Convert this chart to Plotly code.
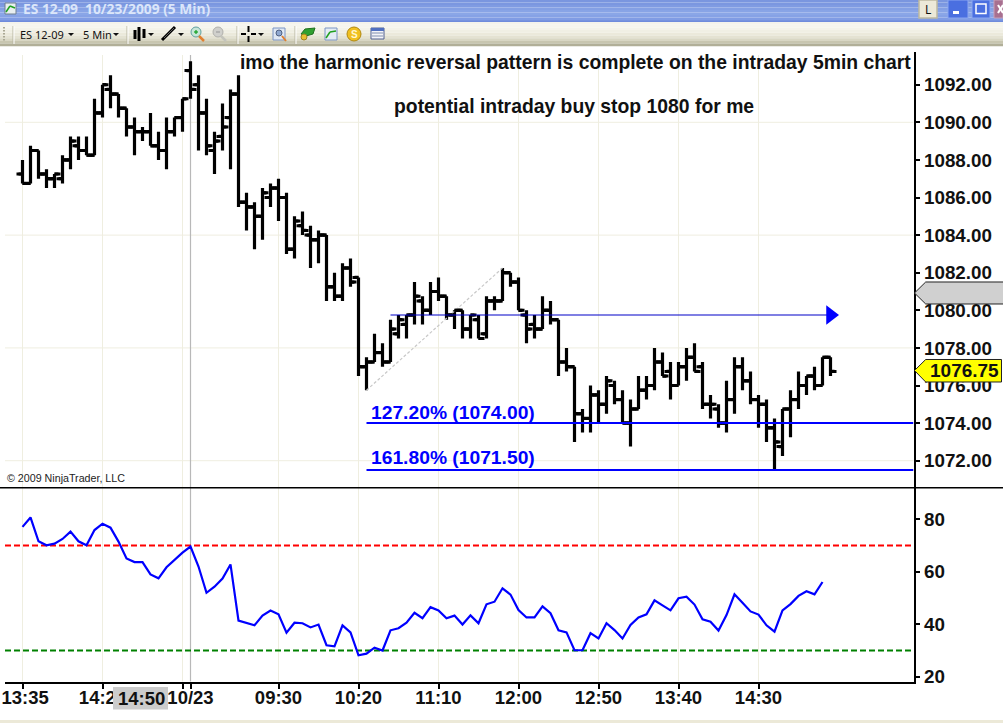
import plotly.graph_objects as go
from plotly.subplots import make_subplots

W, H = 1003, 723

# 5 min bars, 10/22 13:35 through 10/23 15:15
open_px = [1087.25, 1086.75, 1088.5, 1087.25, 1087.0, 1087.0, 1088.0, 1088.75, 1088.5, 1088.25,
           1090.5, 1091.75, 1091.5, 1090.75, 1089.75, 1089.5, 1089.5, 1088.75, 1088.5, 1089.5,
           1090.25, 1092.75, 1092.0, 1090.5, 1088.5, 1089.25, 1090.25, 1091.5, 1085.75, 1085.5,
           1085.0, 1086.0, 1086.5, 1086.0, 1083.25, 1084.5, 1084.0, 1083.75, 1084.0, 1081.25,
           1080.75, 1082.25, 1081.75, 1077.0, 1077.25, 1077.75, 1077.25, 1078.75, 1079.25, 1079.75,
           1080.5, 1080.0, 1081.0, 1080.75, 1079.75, 1080.0, 1079.0, 1079.5, 1078.75, 1080.5,
           1080.5, 1082.0, 1081.5, 1079.75, 1079.25, 1079.0, 1080.0, 1079.5, 1077.25, 1077.0,
           1074.5, 1074.25, 1075.5, 1075.0, 1076.0, 1075.25, 1074.0, 1074.75, 1075.75, 1076.0,
           1077.25, 1076.75, 1076.0, 1077.0, 1077.5, 1077.0, 1075.0, 1074.75, 1074.0, 1075.25,
           1077.0, 1076.25, 1075.25, 1075.0, 1073.75, 1072.75, 1074.75, 1075.25, 1076.0, 1076.5,
           1076.0, 1077.5]
high_px = [1088.0, 1088.75, 1088.5, 1087.5, 1087.25, 1088.25, 1089.25, 1089.25, 1089.25, 1091.25,
           1092.0, 1092.5, 1091.5, 1090.75, 1090.25, 1089.75, 1090.5, 1089.5, 1090.25, 1090.25,
           1091.25, 1093.25, 1092.5, 1091.25, 1089.5, 1091.0, 1091.75, 1092.5, 1086.25, 1085.75,
           1086.5, 1086.75, 1087.0, 1086.25, 1085.0, 1085.25, 1084.5, 1084.25, 1084.0, 1082.0,
           1082.5, 1082.75, 1081.75, 1077.5, 1078.75, 1078.25, 1079.5, 1079.75, 1079.75, 1081.5,
           1080.75, 1081.5, 1081.75, 1080.75, 1080.0, 1080.0, 1079.75, 1079.75, 1080.75, 1080.75,
           1082.25, 1082.0, 1081.75, 1080.0, 1079.75, 1080.75, 1080.5, 1079.5, 1078.0, 1077.0,
           1074.75, 1076.0, 1075.75, 1076.5, 1076.25, 1075.75, 1075.25, 1076.5, 1076.5, 1078.0,
           1077.75, 1077.25, 1077.25, 1078.0, 1078.25, 1077.25, 1075.5, 1075.0, 1076.25, 1077.5,
           1077.5, 1076.75, 1075.5, 1075.25, 1074.25, 1074.75, 1075.75, 1076.75, 1076.5, 1077.0,
           1077.5, 1077.5]
low_px = [1086.75, 1086.75, 1087.0, 1086.5, 1086.5, 1086.75, 1087.5, 1088.0, 1088.25, 1088.25,
          1090.25, 1090.75, 1090.25, 1089.25, 1088.25, 1089.0, 1088.75, 1088.0, 1087.5, 1089.25,
          1089.5, 1091.25, 1088.5, 1088.25, 1087.25, 1088.5, 1087.5, 1085.5, 1084.25, 1083.25,
          1083.75, 1085.5, 1084.75, 1083.0, 1082.75, 1084.0, 1082.25, 1082.5, 1080.5, 1080.5,
          1080.5, 1081.25, 1076.5, 1075.75, 1077.25, 1077.0, 1077.25, 1078.5, 1078.5, 1079.25,
          1079.25, 1079.75, 1080.5, 1079.5, 1079.0, 1078.5, 1078.5, 1078.5, 1078.5, 1080.0,
          1080.5, 1081.25, 1080.0, 1078.25, 1078.5, 1079.0, 1079.25, 1076.5, 1076.75, 1073.0,
          1073.5, 1073.5, 1074.0, 1074.5, 1075.0, 1074.0, 1072.75, 1074.75, 1075.25, 1075.75,
          1076.5, 1075.25, 1076.0, 1076.25, 1076.75, 1074.75, 1074.25, 1073.75, 1073.5, 1074.5,
          1075.75, 1075.0, 1073.75, 1073.0, 1071.5, 1072.25, 1073.25, 1074.75, 1075.5, 1075.75,
          1076.0, 1076.5]
close_px = [1086.75, 1088.5, 1087.25, 1087.0, 1087.25, 1088.0, 1089.0, 1088.5, 1088.25, 1090.5,
            1092.0, 1091.5, 1090.75, 1089.75, 1089.5, 1089.5, 1088.75, 1088.5, 1089.5, 1090.25,
            1091.25, 1091.75, 1090.5, 1088.75, 1089.0, 1089.75, 1091.5, 1085.75, 1085.5, 1085.0,
            1086.25, 1086.5, 1086.0, 1083.25, 1084.75, 1084.25, 1083.75, 1084.0, 1081.25, 1080.75,
            1082.25, 1081.5, 1077.0, 1077.25, 1077.75, 1077.25, 1079.0, 1079.5, 1079.75, 1080.75,
            1080.0, 1081.0, 1080.75, 1079.75, 1080.0, 1079.0, 1079.75, 1078.5, 1080.5, 1080.5,
            1082.0, 1081.5, 1080.0, 1079.0, 1079.0, 1080.0, 1079.5, 1077.25, 1077.0, 1074.5,
            1074.25, 1075.5, 1075.0, 1076.25, 1075.25, 1074.0, 1074.75, 1075.75, 1076.0, 1077.25,
            1076.5, 1076.0, 1077.0, 1077.5, 1076.75, 1075.0, 1075.0, 1074.0, 1075.25, 1077.0,
            1076.25, 1075.25, 1075.0, 1073.75, 1073.0, 1074.75, 1075.25, 1076.0, 1076.5, 1076.0,
            1077.5, 1076.75]

rsi = [77.1, 80.7, 71.6, 70.1, 70.7, 72.5, 75.3, 71.6, 70.1, 75.9,
       78.3, 76.8, 71.5, 65.1, 63.7, 63.7, 59.0, 57.5, 61.7, 64.7,
       67.3, 69.6, 62.0, 52.0, 54.3, 57.4, 62.8, 41.4, 40.6, 39.6,
       43.3, 45.2, 43.8, 36.8, 40.6, 40.4, 38.8, 39.9, 32.0, 31.6,
       39.6, 36.9, 28.2, 28.8, 31.1, 30.0, 37.7, 38.5, 40.6, 44.4,
       42.3, 46.5, 45.3, 42.3, 43.3, 39.9, 43.4, 40.4, 47.6, 48.6,
       53.7, 51.3, 45.4, 42.6, 42.6, 46.8, 44.2, 37.7, 36.9, 30.1,
       30.1, 36.6, 34.6, 40.4, 37.8, 34.6, 39.7, 42.6, 43.8, 49.1,
       47.2, 45.3, 49.9, 50.5, 47.5, 41.9, 41.0, 37.6, 43.5, 51.4,
       48.2, 44.9, 43.7, 39.6, 37.2, 45.3, 47.7, 50.8, 52.6, 51.4,
       56.1]

time_tick_bars = [0, 10, 20, 21, 32, 42, 52, 62, 72, 82, 92]
time_tick_text = ["\u00a013:35", "14:25", "", "10/23", "09:30", "10:20", "11:10", "12:00", "12:50", "13:40", "14:30"]
grid_bars = [0, 10, 20, 32, 42, 52, 62, 72, 82, 92]
session_bar = 21
cursor_text = "14:50"

price_ticks = [1072, 1074, 1076, 1078, 1080, 1082, 1084, 1086, 1088, 1090, 1092]
price_grid = [1072, 1078, 1084, 1090]
rsi_ticks = [20, 40, 60, 80]
rsi_upper, rsi_lower = 70, 30

fib_start_bar = 43
fib_levels = [1074.00, 1071.50]
fib_labels = ["127.20% (1074.00)", "161.80% (1071.50)"]
swing_bars = [43, 60]
swing_prices = [1075.75, 1082.25]
stop_bars = [46, 101]
stop_price = 1079.75
last_price = 1076.75

FONT = "Liberation Sans"
BLUE = "#0000ff"
GRID = "#efeee0"


def px(x):
    return x / W


def py(y):
    return 1 - y / H


bar_index = list(range(len(close_px)))
x_left = (5 - 22.5) / 8
x_right = (913.5 - 22.5) / 8

fig = make_subplots(rows=2, cols=1, shared_xaxes=True, vertical_spacing=0)

# swing line goes under the bars
fig.add_trace(go.Scatter(x=swing_bars, y=swing_prices, mode="lines",
                         line=dict(color="#c8c8c8", width=1.2, dash="3px,2px")), row=1, col=1)
fig.add_trace(go.Ohlc(x=bar_index, open=open_px, high=high_px, low=low_px, close=close_px,
                      tickwidth=0.5,
                      increasing=dict(line=dict(color="black", width=3.2)),
                      decreasing=dict(line=dict(color="black", width=3.2))), row=1, col=1)

# ohlc trace stops its ticks at half a bar, the NinjaTrader ticks run longer
tick_x, tick_y = [], []
for b, o, c in zip(bar_index, open_px, close_px):
    tick_x += [b - 0.75, b, None, b, b + 0.75, None]
    tick_y += [o, o, None, c, c, None]
fig.add_trace(go.Scatter(x=tick_x, y=tick_y, mode="lines", line=dict(color="black", width=3)), row=1, col=1)

for level in fib_levels:
    fig.add_trace(go.Scatter(x=[fib_start_bar, x_right], y=[level, level], mode="lines",
                             line=dict(color=BLUE, width=2)), row=1, col=1)
fig.add_trace(go.Scatter(x=stop_bars, y=[stop_price, stop_price], mode="lines",
                         line=dict(color="#0000c8", width=1.2)), row=1, col=1)
fig.add_trace(go.Scatter(x=stop_bars[1:], y=[stop_price], mode="markers", cliponaxis=False,
                         marker=dict(symbol="triangle-right", size=17, color=BLUE)), row=1, col=1)

for level, color in [(rsi_upper, "#ff0000"), (rsi_lower, "#008000")]:
    fig.add_trace(go.Scatter(x=[x_left, x_right], y=[level, level], mode="lines",
                             line=dict(color=color, width=2, dash="6px,3px")), row=2, col=1)
fig.add_trace(go.Scatter(x=bar_index[:len(rsi)], y=rsi, mode="lines",
                         line=dict(color=BLUE, width=2.2)), row=2, col=1)

tick_font = dict(family=FONT, size=18.8, color="#111111", weight=700)
axis_common = dict(showgrid=False, zeroline=False, showline=True, linecolor="black", linewidth=1.5,
                   side="right", ticks="outside", ticklen=5, tickcolor="black", tickwidth=1.5,
                   tickfont=tick_font, automargin=False)
fig.update_xaxes(range=[x_left, x_right], domain=[px(5), px(913.5)], showgrid=False, zeroline=False,
                 rangeslider_visible=False, automargin=False)
fig.update_xaxes(showticklabels=False, ticks="", row=1, col=1)
fig.update_xaxes(tickmode="array", tickvals=time_tick_bars, ticktext=time_tick_text,
                 showline=True, linecolor="black", linewidth=1.5, ticks="outside", ticklen=6,
                 tickcolor="black", tickwidth=1.5, ticklabeloverflow="allow", ticklabelstandoff=-7,
                 tickfont=dict(family=FONT, size=18.5, color="#111111", weight=700),
                 row=2, col=1)
fig.update_yaxes(range=[1070.575, 1093.74], domain=[py(487.5), py(52)], tickmode="array",
                 tickvals=price_ticks, ticktext=["%.2f" % p for p in price_ticks], row=1, col=1,
                 **axis_common)
fig.update_yaxes(range=[18.2, 92.1], domain=[py(681.5), py(487.5)], tickmode="array",
                 tickvals=rsi_ticks, row=2, col=1, **axis_common)

shapes = []


def rect(x0, y0, x1, y1, fill, line=None, width=1, layer="above"):
    shapes.append(dict(type="rect", xref="paper", yref="paper", x0=px(x0), x1=px(x1), y0=py(y0), y1=py(y1),
                       fillcolor=fill, line=dict(color=line or fill, width=width if line else 0), layer=layer))


def hair(x0, y0, x1, y1, color, width=1):
    shapes.append(dict(type="line", xref="paper", yref="paper", x0=px(x0), x1=px(x1), y0=py(y0), y1=py(y1),
                       line=dict(color=color, width=width), layer="above"))


def poly(points, fill, line=None, width=1):
    path = "M " + " L ".join("%.5f,%.5f" % (px(a), py(b)) for a, b in points) + " Z"
    shapes.append(dict(type="path", xref="paper", yref="paper", path=path, fillcolor=fill,
                       line=dict(color=line or fill, width=width if line else 0), layer="above"))


def circle(cx, cy, r, fill, line=None):
    shapes.append(dict(type="circle", xref="paper", yref="paper", x0=px(cx - r), x1=px(cx + r),
                       y0=py(cy + r), y1=py(cy - r), fillcolor=fill,
                       line=dict(color=line or fill, width=1), layer="above"))


# chart grid
for b in grid_bars:
    shapes.append(dict(type="line", xref="x2", yref="paper", x0=b, x1=b, y0=py(681.5), y1=py(55),
                       line=dict(color=GRID, width=1), layer="below"))
for p in price_grid:
    shapes.append(dict(type="line", xref="x domain", yref="y", x0=0, x1=1, y0=p, y1=p,
                       line=dict(color=GRID, width=1), layer="below"))
shapes.append(dict(type="line", xref="x2", yref="paper", x0=session_bar, x1=session_bar, y0=py(681.5), y1=py(55),
                   line=dict(color="#b8b8b8", width=1.2), layer="below"))
hair(0, 487.7, W, 487.7, "black", 1.5)

# window title bar
title_steps = ["#7a96df", "#7b97e0", "#7f9be2", "#84a0e4", "#88a4e6", "#8aa6e7", "#86a2e6", "#809ce4", "#7a96e0"]
for n, c in enumerate(title_steps):
    rect(0, n * 2.5, W, (n + 1) * 2.5, c)
hair(0, 21.5, W, 21.5, "#6f8bdc", 1.5)

# toolbar
tool_steps = ["#f4f3ec", "#f6f5ee", "#f4f3ea", "#f0efe4", "#ebe9db", "#e4e2d2", "#d9d7c4", "#c8c6b0", "#b1af98"]
for n, c in enumerate(tool_steps):
    rect(0, 22 + n * 2.7, W, 22 + (n + 1) * 2.7, c)
for x in [13, 127, 237, 295]:
    hair(x, 26, x, 44, "#b9b7a3", 1)
    hair(x + 1, 26, x + 1, 44, "#ffffff", 1)
for y in [27, 30, 33, 36, 39]:
    rect(3, y, 5, y + 1.5, "#aaa894")
for x in [71, 116, 151, 181, 261]:
    poly([(x - 3, 33), (x + 3, 33), (x, 36)], "#111111")

# toolbar icons
rect(5, 3, 16, 14, "#e8eef0", "#6f7f90")
hair(6, 12, 10, 6, "#20a020", 1.5)
hair(10, 6, 15, 8, "#20a020", 1.5)
for x, top, bot in [(135, 30, 39), (139, 27, 41), (144, 29, 38)]:
    hair(x, top, x, bot, "black", 3)
hair(162, 40, 175, 27, "black", 3)
hair(164, 38, 174, 28, "#666666", 1)
circle(196, 32, 5, "#c8e6d8", "#60a0a0")
hair(199, 36, 204, 41, "#e08030", 2.5)
rect(194, 31.4, 198, 32.6, "#10a020")
rect(195.4, 30, 196.6, 34, "#10a020")
circle(218, 32, 5, "#d0d0cc", "#b0b0ac")
hair(221, 36, 226, 41, "#c4c4bc", 2.5)
rect(216, 31.4, 220, 32.6, "#a0a0a0")
hair(241, 34, 246, 34, "black", 2)
hair(251, 34, 256, 34, "black", 2)
hair(248.5, 26, 248.5, 32, "black", 2)
hair(248.5, 36, 248.5, 42, "black", 2)
rect(273, 28, 285, 40, "#dfe8f4", "#7a94c4")
circle(279, 33, 3, "#8fa8d0", "#506080")
hair(282, 36, 286, 41, "#e08030", 2)
poly([(301, 34), (305, 29), (315, 28), (313, 34), (306, 36)], "#30a030", "#207020")
circle(304, 37, 3, "#e8c030", "#a08020")
rect(325, 28, 337, 40, "#e4ecf4", "#7a94c4")
hair(326, 38, 330, 32, "#20a020", 1.5)
hair(330, 32, 336, 31, "#20a020", 1.5)
circle(354, 34, 7, "#f0c020", "#b08810")
rect(371, 28, 384, 39, "#f4f4f8", "#506090")
rect(371, 28, 384, 31, "#5070c0")
for y in [33, 36]:
    hair(372, y, 383, y, "#8090b0", 1)

# window buttons
rect(919, 0, 937, 18, "#ece9d8", "#bdb9a0", 1.5)
rect(948, 0, 968, 18, "#4a6fe0", "#8aa6f0", 1)
rect(953, 11, 959, 14, "#ffffff")
rect(972, 0, 990, 18, "#4a6fe0", "#8aa6f0", 1)
rect(976, 4, 986, 13.5, "#4a6fe0", "#ffffff", 1.5)
rect(994, 0, 1003, 18, "#a87090", "#c8a0b8", 1)
hair(998, 5, 1003, 13, "#ffffff", 2)
hair(1003, 5, 998, 13, "#ffffff", 2)

# window bottom edge
rect(0, 720, W, H, "#ece9d8")

# price flags on the axis
poly([(914.5, 293), (925.7, 282), (W + 2, 282), (W + 2, 304), (925.7, 304)], "#d0d0d0", "#222222", 1)
poly([(914.5, 370.5), (925.7, 359.5), (1001.5, 359.5), (1001.5, 382), (925.7, 382)], "#ffff00", "#222222", 1)

annotations = []


def label(x, y, text, size, color="#111111", bold=True, anchor="center", bg=None, family=FONT):
    annotations.append(dict(xref="paper", yref="paper", x=px(x), y=py(y), text=text, showarrow=False,
                            xanchor=anchor, yanchor="middle", bgcolor=bg, borderpad=0,
                            font=dict(family=family, size=size, color=color, weight=700 if bold else 400)))


label(575, 62, "imo the harmonic reversal pattern is complete on the intraday 5min chart", 19.35)
label(574, 106, "potential intraday buy stop 1080 for me", 19.35)
label(369.5, 412, fib_labels[0], 19.25, BLUE, anchor="left")
label(369.5, 457, fib_labels[1], 19.25, BLUE, anchor="left")
label(6, 478, "© 2009 NinjaTrader, LLC", 10.7, "#222222", bold=False, anchor="left")
label(964, 370.5, "%.2f" % last_price, 19)
label(22, 9, "ES 12-09\u00a0\u00a010/23/2009 (5 Min)", 13.8, "#dbe6fa", anchor="left", family="Open Sans")
label(19, 34, "ES 12-09", 11, "#111111", bold=False, anchor="left", family="Noto Sans")
label(82, 34, "5 Min", 11, "#111111", bold=False, anchor="left", family="Noto Sans")
label(928, 9.5, "L", 12, "#111111", bold=False, family="Noto Sans")
label(354, 34, "S", 10, "#fff8d0")

# highlighted time under the cursor, sits on top of the neighbouring tick label
rect(113, 687, 168, 709.5, "#cccccc")
label(141, 698, cursor_text, 18.5, "#111111")

fig.update_layout(width=W, height=H, margin=dict(l=0, r=0, t=0, b=0), autosize=False,
                  paper_bgcolor="white", plot_bgcolor="white", showlegend=False, hovermode=False,
                  shapes=shapes, annotations=annotations, font=dict(family=FONT))

fig.write_html("out.html", config=dict(displayModeBar=False),
               post_script="document.body.style.margin='0';document.body.style.overflow='hidden';")
